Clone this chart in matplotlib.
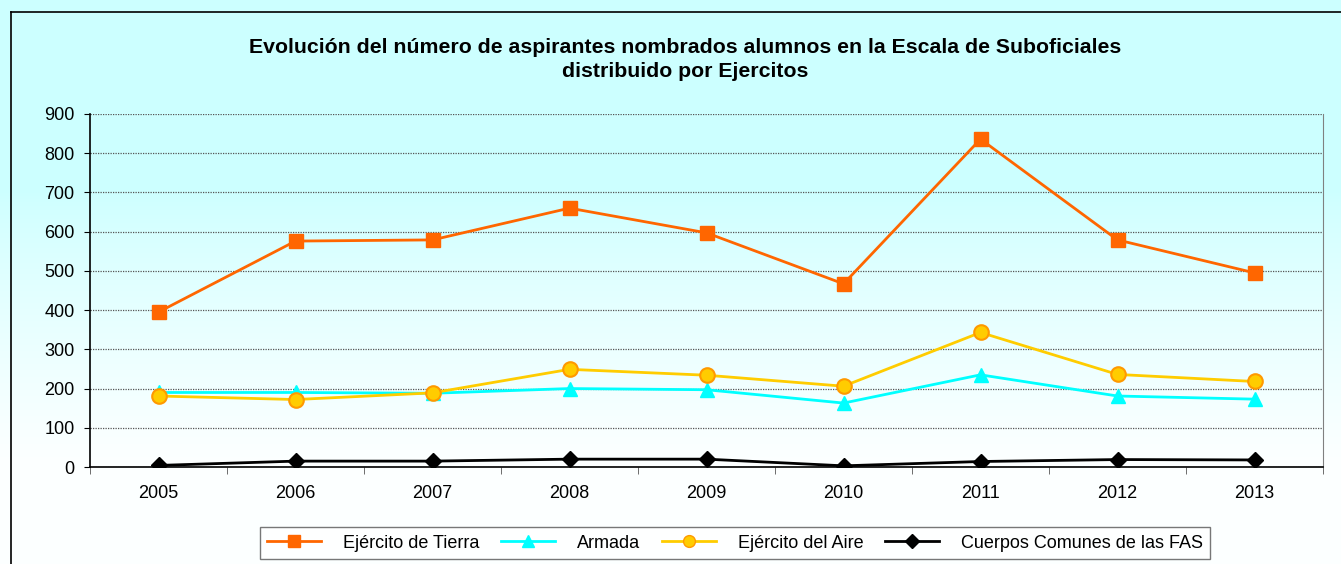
import numpy as np
import matplotlib
matplotlib.use("Agg")
import matplotlib.pyplot as plt
from matplotlib.colors import to_rgb
from matplotlib.lines import Line2D

plt.rcParams['font.family'] = ['Liberation Sans', 'DejaVu Sans']

years = ['2005', '2006', '2007', '2008', '2009', '2010', '2011', '2012', '2013']
tierra = [395, 576, 579, 660, 597, 467, 836, 579, 495]
armada = [190, 190, 188, 200, 197, 163, 235, 181, 173]
aire = [181, 172, 189, 249, 234, 206, 343, 236, 218]
comunes = [4, 15, 15, 20, 20, 3, 14, 19, 18]
series_names = ['Ejército de Tierra', 'Armada', 'Ejército del Aire', 'Cuerpos Comunes de las FAS']
title = 'Evolución del número de aspirantes nombrados alumnos en la Escala de Suboficiales\ndistribuido por Ejercitos'

W, H = 1341, 564
fig = plt.figure(figsize=(W / 100, H / 100), dpi=100)

# background gradient over whole figure
bg = fig.add_axes([0, 0, 1, 1], zorder=-10)
ypix = np.arange(H)
t = np.clip((ypix - 190) / (460 - 190), 0, 1)
t = t ** 0.8
c0 = np.array(to_rgb('#CCFFFF'))
c1 = np.array([0.99, 1.0, 1.0])
col = c0[None, :] * (1 - t[:, None]) + c1[None, :] * t[:, None]
img = np.repeat(col[:, None, :], 4, axis=1)
bg.imshow(img, aspect='auto', extent=[0, 1, 0, 1], origin='upper')
bg.set_xlim(0, 1)
bg.set_ylim(0, 1)
bg.axis('off')
# chart border (left and top)
bg.plot([11 / W, 11 / W], [0, 1 - 12 / H], color='black', lw=1.2, transform=bg.transAxes)
bg.plot([11 / W, 1], [1 - 12 / H, 1 - 12 / H], color='black', lw=1.2, transform=bg.transAxes)

ax = fig.add_axes([90 / W, (H - 467) / H, (1323 - 90) / W, (467 - 114) / H])
ax.set_facecolor('none')
x = np.arange(len(years))

ax.plot(x, tierra, color='#FF6600', lw=2, marker='s', ms=10.5, mfc='#FF6600', mec='#FF6600', zorder=5)
ax.plot(x, armada, color='#00FFFF', lw=2, marker='^', ms=10.5, mfc='#00FFFF', mec='#00FFFF', zorder=4)
ax.plot(x, aire, color='#FFCC00', lw=2, marker='o', ms=10.5, mfc='#FFCC00', mec='#FF9900', mew=1.5, zorder=4.5)
ax.plot(x, comunes, color='black', lw=2, marker='D', ms=8.5, mfc='black', mec='black', zorder=5)

ax.set_xlim(-0.5, len(years) - 0.5)
ax.set_ylim(0, 900)
ax.set_yticks(np.arange(0, 901, 100))
ax.set_xticks(x)
ax.set_xticklabels(years)
ax.set_xticks(np.arange(-0.5, len(years), 1), minor=True)
ax.tick_params(axis='x', which='major', length=0, pad=13, labelsize=13)
ax.tick_params(axis='x', which='minor', length=5, direction='out', color='#555555')
ax.tick_params(axis='y', length=4, direction='out', pad=7, labelsize=13)

ax.yaxis.grid(True, linestyle=(0, (1, 1)), color='#555555', lw=0.9)
ax.set_axisbelow(True)
ax.spines['top'].set_visible(False)
ax.spines['right'].set_color('#808080')
ax.spines['left'].set_color('black')
ax.spines['bottom'].set_color('black')
ax.spines['left'].set_linewidth(1.2)
ax.spines['bottom'].set_linewidth(1.2)

fig.text(685 / W, 1 - 59.5 / H, title, ha='center', va='center', fontsize=15.3,
         fontweight='bold', linespacing=1.35)

handles = [
    Line2D([], [], color='#FF6600', lw=2, marker='s', ms=8.5, mfc='#FF6600', mec='#FF6600'),
    Line2D([], [], color='#00FFFF', lw=2, marker='^', ms=8.5, mfc='#00FFFF', mec='#00FFFF'),
    Line2D([], [], color='#FFCC00', lw=2, marker='o', ms=8.5, mfc='#FFCC00', mec='#FF9900'),
    Line2D([], [], color='black', lw=2, marker='D', ms=7, mfc='black', mec='black'),
]
leg = fig.legend(handles, series_names, loc='center', bbox_to_anchor=(735 / W, 1 - 543 / H),
                 ncol=4, fontsize=13, frameon=True, fancybox=False, handlelength=3.0,
                 handletextpad=1.2, columnspacing=1.2, borderpad=0.4)
leg.get_frame().set_edgecolor('#555555')
leg.get_frame().set_facecolor('white')
leg.get_frame().set_linewidth(1.0)

fig.savefig('out.png', dpi=100)
